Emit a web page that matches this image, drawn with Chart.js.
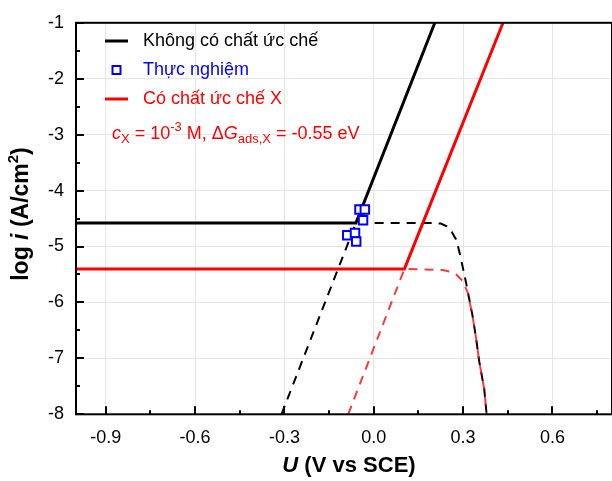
<!DOCTYPE html>
<html>
<head>
<meta charset="utf-8">
<script src="https://cdn.jsdelivr.net/npm/chart.js@4.4.1/dist/chart.umd.min.js"></script>
<style>
  html, body { margin: 0; padding: 0; overflow: hidden; background: #fff; }
  canvas { display: block; }
</style>
</head>
<body>
<canvas id="c" width="620" height="481"></canvas>
<script>
// ---- data (U in V vs SCE, log i in A/cm2) ----
const xTickValues = [-0.9, -0.6, -0.3, 0.0, 0.3, 0.6];
const yTickValues = [-1, -2, -3, -4, -5, -6, -7, -8];

const blackSolidU    = [-1.0, -0.060, 0.205];
const blackSolidLogI = [-4.58, -4.58, -1.0];

const redSolidU      = [-1.0, 0.103, 0.434];
const redSolidLogI   = [-5.40, -5.40, -1.0];

const blackDashU     = [-0.310, -0.060, 0.200, 0.225, 0.245, 0.262, 0.277, 0.290, 0.310, 0.332, 0.343, 0.354, 0.371, 0.379];
const blackDashLogI  = [-8.00, -4.58, -4.58, -4.59, -4.64, -4.74, -4.88, -5.15, -5.65, -6.25, -6.62, -7.05, -7.55, -8.00];

const redDashU       = [-0.086, 0.103, 0.232, 0.255, 0.277, 0.299, 0.316, 0.332, 0.343, 0.354, 0.371, 0.379];
const redDashLogI    = [-8.00, -5.40, -5.42, -5.45, -5.50, -5.62, -5.83, -6.25, -6.62, -7.05, -7.55, -8.00];

const expU           = [-0.048, -0.030, -0.036, -0.089, -0.063, -0.059];
const expLogI        = [-4.34, -4.34, -4.53, -4.80, -4.76, -4.91];

const legendLabels = ['Không có chất ức chế', 'Thực nghiệm', 'Có chất ức chế X'];

const X_MIN = -1.0, X_MAX = 0.8, Y_MIN = -8, Y_MAX = -1;

function pts(xs, ys) { return xs.map((x, i) => ({ x: x, y: ys[i] })); }

const FONT = '"Liberation Sans", Arial, sans-serif';

const decorPlugin = {
  id: 'decor',
  afterDraw(chart) {
    const ctx = chart.ctx;
    const a = chart.chartArea;
    const xs = chart.scales.x, ys = chart.scales.y;
    ctx.save();
    // frame
    ctx.strokeStyle = '#000';
    ctx.lineWidth = 2;
    ctx.strokeRect(a.left, a.top, a.right - a.left, a.bottom - a.top);
    // inward ticks
    ctx.beginPath();
    for (let v = -0.9; v <= X_MAX - 0.01; v += 0.15) {
      const major = Math.abs(Math.round(v / 0.3) * 0.3 - v) < 1e-6;
      const px = Math.round(xs.getPixelForValue(v));
      const len = major ? 8 : 4;
      ctx.moveTo(px, a.bottom); ctx.lineTo(px, a.bottom - len);
    }
    for (let v = Y_MIN; v <= Y_MAX; v += 0.5) {
      const major = Math.abs(Math.round(v) - v) < 1e-6;
      const py = Math.round(ys.getPixelForValue(v));
      const len = major ? 8 : 4;
      ctx.moveTo(a.left, py); ctx.lineTo(a.left + len, py);
    }
    ctx.stroke();

    // axis titles
    ctx.fillStyle = '#000';
    const xr = [
      { t: 'U', f: 'italic bold 22px ' + FONT },
      { t: ' (V vs SCE)', f: 'bold 22px ' + FONT }
    ];
    drawRuns(ctx, xr, 349, 466, 'center');
    ctx.save();
    ctx.translate(22, 214);
    ctx.rotate(-Math.PI / 2);
    const yr = [
      { t: 'log ', f: 'bold 23px ' + FONT },
      { t: 'i', f: 'italic bold 23px ' + FONT },
      { t: ' (A/cm', f: 'bold 23px ' + FONT },
      { t: '2', f: 'bold 15px ' + FONT, dy: -8 },
      { t: ')', f: 'bold 23px ' + FONT }
    ];
    drawRuns(ctx, yr, 0, 0, 'center');
    ctx.restore();

    // legend
    ctx.lineWidth = 3;
    ctx.strokeStyle = '#000';
    ctx.beginPath(); ctx.moveTo(105, 41); ctx.lineTo(128, 41); ctx.stroke();
    ctx.strokeStyle = '#ff0000';
    ctx.beginPath(); ctx.moveTo(105, 99); ctx.lineTo(128, 99); ctx.stroke();
    ctx.lineWidth = 2;
    ctx.strokeStyle = '#0000ff';
    ctx.fillStyle = '#fff';
    ctx.fillRect(112.5, 66, 8, 8);
    ctx.strokeRect(112.5, 66, 8, 8);
    ctx.font = '18px ' + FONT;
    ctx.textAlign = 'left';
    ctx.textBaseline = 'middle';
    ctx.fillStyle = '#000';
    ctx.fillText(legendLabels[0], 143, 41);
    ctx.fillStyle = '#0000ff';
    ctx.fillText(legendLabels[1], 143, 70);
    ctx.fillStyle = '#ff0000';
    ctx.fillText(legendLabels[2], 143, 99);

    // annotation
    const ar = [
      { t: 'c', f: 'italic 18px ' + FONT },
      { t: 'X', f: '13px ' + FONT, dy: 5 },
      { t: ' = 10', f: '18px ' + FONT },
      { t: '-3', f: '13px ' + FONT, dy: -7 },
      { t: ' M, \u0394', f: '18px ' + FONT },
      { t: 'G', f: 'italic 18px ' + FONT },
      { t: 'ads,X', f: '13px ' + FONT, dy: 5 },
      { t: ' = -0.55 eV', f: '18px ' + FONT }
    ];
    ctx.fillStyle = '#ff0000';
    drawRuns(ctx, ar, 112, 134, 'left');
    ctx.restore();
  }
};

function drawRuns(ctx, runs, x, y, align) {
  let total = 0;
  runs.forEach(r => { ctx.font = r.f; r.w = ctx.measureText(r.t).width; total += r.w; });
  let cx = align === 'center' ? x - total / 2 : x;
  ctx.textAlign = 'left';
  ctx.textBaseline = 'middle';
  runs.forEach(r => { ctx.font = r.f; ctx.fillText(r.t, cx, y + (r.dy || 0)); cx += r.w; });
}

new Chart(document.getElementById('c'), {
  type: 'scatter',
  data: {
    datasets: [
      { label: 'dashBlack', data: pts(blackDashU, blackDashLogI), showLine: true, borderColor: '#000', borderWidth: 2, borderDash: [9, 7], pointRadius: 0, tension: 0 },
      { label: 'dashRed', data: pts(redDashU, redDashLogI), showLine: true, borderColor: 'rgba(255,0,0,0.78)', borderWidth: 2, borderDash: [9, 7], pointRadius: 0, tension: 0 },
      { label: legendLabels[0], data: pts(blackSolidU, blackSolidLogI), showLine: true, borderColor: '#000', borderWidth: 3, pointRadius: 0, tension: 0 },
      { label: legendLabels[2], data: pts(redSolidU, redSolidLogI), showLine: true, borderColor: '#ff0000', borderWidth: 3, pointRadius: 0, tension: 0 },
      { label: legendLabels[1], data: pts(expU, expLogI), showLine: false, pointStyle: 'rect', pointRadius: 6, borderColor: '#0000ff', backgroundColor: '#ffffff', borderWidth: 2 }
    ].map((d, i) => Object.assign(d, { order: 5 - i }))
  },
  options: {
    responsive: false,
    devicePixelRatio: 1,
    animation: false,
    layout: { padding: { top: 14, right: 2.5, left: 0, bottom: 0 } },
    plugins: { legend: { display: false }, tooltip: { enabled: false } },
    scales: {
      x: {
        type: 'linear', min: X_MIN, max: X_MAX,
        afterBuildTicks(scale) { scale.ticks = xTickValues.map(v => ({ value: v })); },
        afterFit(scale) { scale.height = 66.7; },
        grid: { color: '#e6e6e6', lineWidth: 1, drawTicks: false },
        border: { display: false },
        ticks: { color: '#000', font: { size: 18, family: FONT }, padding: 13, maxRotation: 0, autoSkip: false,
                 callback: v => v.toFixed(1) }
      },
      y: {
        type: 'linear', min: Y_MIN, max: Y_MAX,
        afterBuildTicks(scale) { scale.ticks = yTickValues.map(v => ({ value: v })); },
        afterFit(scale) { scale.width = 76; },
        grid: { color: '#e6e6e6', lineWidth: 1, drawTicks: false },
        border: { display: false },
        ticks: { color: '#000', font: { size: 18, family: FONT }, padding: 12, autoSkip: false,
                 callback: v => String(Math.round(v)) }
      }
    }
  },
  plugins: [decorPlugin]
});
</script>
</body>
</html>
